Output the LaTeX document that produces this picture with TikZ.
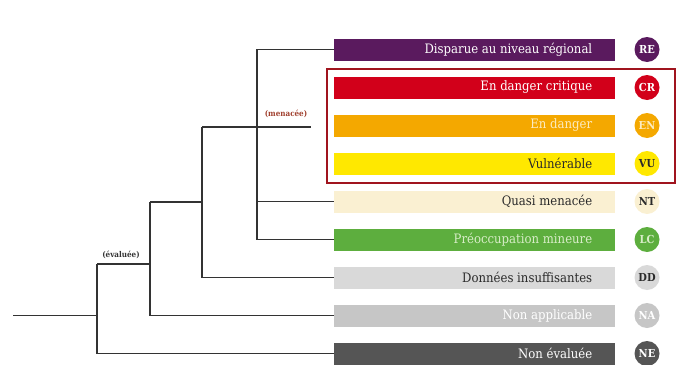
\documentclass[tikz,border=0pt]{standalone}
\usepackage{fontspec}
\setmainfont{DejaVu Serif Condensed}
\definecolor{cRE}{HTML}{5A1A5E}
\definecolor{cCR}{HTML}{D2001A}
\definecolor{cEN}{HTML}{F4A800}
\definecolor{cVU}{HTML}{FFE800}
\definecolor{cNT}{HTML}{FAF0D2}
\definecolor{cLC}{HTML}{5DAE3E}
\definecolor{cDD}{HTML}{D9D9D9}
\definecolor{cNA}{HTML}{C6C6C6}
\definecolor{cNE}{HTML}{555555}
\definecolor{tEN}{HTML}{FCEBC0}
\definecolor{tLC}{HTML}{D8EDC8}
\definecolor{tDark}{HTML}{2A2A2A}
\definecolor{frame}{HTML}{A0141E}
\definecolor{menace}{HTML}{A0402E}
\tikzset{
  bar/.style={minimum width=281pt, minimum height=22pt, inner sep=0pt, anchor=west, font=\fontsize{13}{14}\selectfont},
  badge/.style={circle, minimum size=25pt, inner sep=0pt, font=\fontsize{11}{12}\selectfont\bfseries},
  tree/.style={line width=1.1pt, draw=black!80},
  lbl/.style={font=\fontsize{8}{9}\selectfont\bfseries, inner sep=0pt},
}
\begin{document}
\begin{tikzpicture}[x=1pt,y=-1pt]
\useasboundingbox (0,0) rectangle (677,364);
% bars
\foreach \i/\c/\t/\tc/\ab in {0/cRE/Disparue au niveau régional/white/RE,
  1/cCR/En danger critique/white/CR,
  2/cEN/En danger/tEN/EN,
  3/cVU/Vulnérable/tDark/VU,
  4/cNT/Quasi menacée/tDark/NT,
  5/cLC/Préoccupation mineure/tLC/LC,
  6/cDD/Données insuffisantes/tDark/DD,
  7/cNA/Non applicable/white/NA,
  8/cNE/Non évaluée/white/NE}{
  \node[bar, fill=\c, text=\tc] (b\ab) at (334,{49.5+38*\i}) {\hspace*{258pt}\llap{\t}\hspace*{23pt}};
  \node[badge, fill=\c, text=\tc] (c\ab) at (647,{49.5+38*\i}) {\ab};
}
% frame
\draw[frame, line width=1.6pt] (327,69) rectangle (675,183);
% tree
\coordinate (root) at (13,315.5);
\coordinate (n1) at (97,264);
\coordinate (n2) at (150,202);
\coordinate (n3) at (202,127);
\coordinate (n4) at (257,49.5);
\coordinate (m) at (311,127);
\draw[tree] (root) -- (root -| n1);
\draw[tree] (n1) |- (bNE.west);
\draw[tree] (n1) -- (n1 -| n2);
\draw[tree] (n2) |- (bNA.west);
\draw[tree] (n2) -- (n2 -| n3);
\draw[tree] (n3) |- (bDD.west);
\draw[tree] (n3) -- (m);
\draw[tree] (bRE.west) -- (n4) |- (bLC.west);
\draw[tree] (bNT.west -| n4) -- (bNT.west);
\node[lbl, text=black!80] (ev) at (121,255) {(évaluée)};
\node[lbl, text=menace] (me) at (286,114) {(menacée)};
\end{tikzpicture}
\end{document}
